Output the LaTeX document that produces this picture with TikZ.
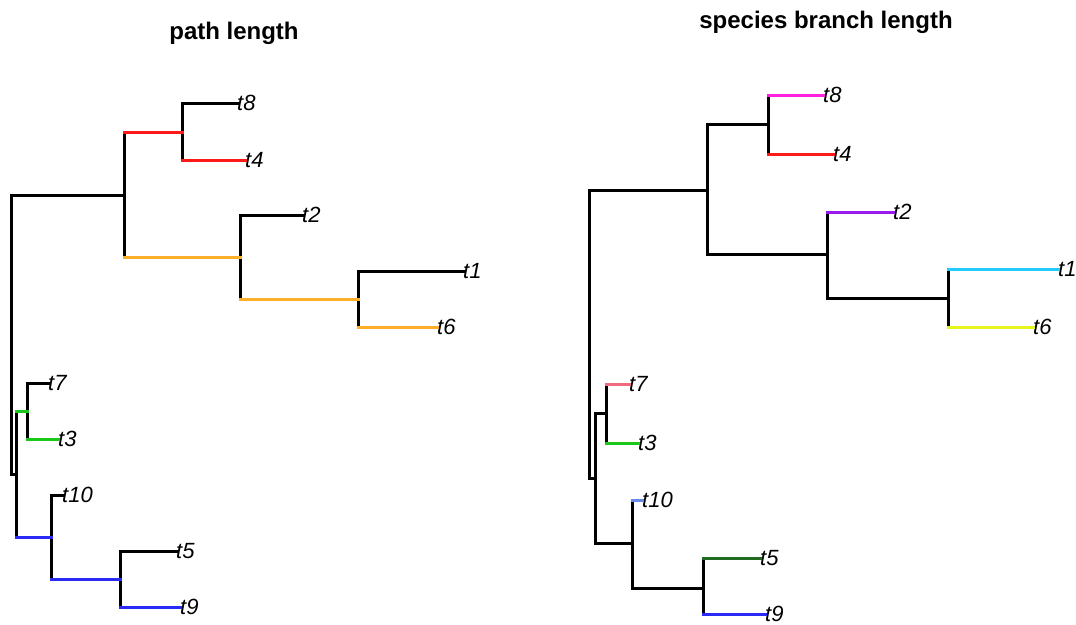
\documentclass[tikz,border=0pt]{standalone}
\usepackage{fontspec}
\setmainfont{Liberation Sans}
\usetikzlibrary{positioning}

\definecolor{brred}{HTML}{FF1A1A}
\definecolor{brorange}{HTML}{FFAE2A}
\definecolor{brgreen}{HTML}{1AC81A}
\definecolor{brblue}{HTML}{2A2AF5}
\definecolor{brmagenta}{HTML}{FF22DD}
\definecolor{brpurple}{HTML}{9A1AF0}
\definecolor{brcyan}{HTML}{22CCFF}
\definecolor{bryellow}{HTML}{E6F51A}
\definecolor{brpink}{HTML}{F06A80}
\definecolor{brcorn}{HTML}{6A8AEA}
\definecolor{brdkgreen}{HTML}{1F6B1F}

\begin{document}
\begin{tikzpicture}[
    x=1pt, y=-1pt,
    edge/.style={line width=3pt, line cap=rect},
    tip/.style={anchor=west, inner sep=0pt, font=\fontsize{22}{22}\selectfont\itshape},
    title/.style={font=\fontsize{24}{24}\selectfont\bfseries},
]
\useasboundingbox (0,0) rectangle (1076,624);

% titles
\node[title] (ltitle) at (234, 33) {path length};
\node[title] (rtitle) at (826, 22) {species branch length};

% ---------- left tree: path length ----------
% inner nodes
\coordinate (lR) at (11, 334);
\coordinate (lA) at (124, 195);
\coordinate (lB) at (182, 132);
\coordinate (lC) at (240, 257);
\coordinate (lD) at (358, 299);
\coordinate (lE) at (16, 474);
\coordinate (lF) at (27, 411);
\coordinate (lG) at (51, 537);
\coordinate (lH) at (120, 579);

% tips
\node[tip] (lt8) at (237, 103) {t8};
\node[tip] (lt4) at (245, 160) {t4};
\node[tip] (lt2) at (302, 215) {t2};
\node[tip] (lt1) at (463, 271) {t1};
\node[tip] (lt6) at (437, 327) {t6};
\node[tip] (lt7) at (48, 383) {t7};
\node[tip] (lt3) at (58, 439) {t3};
\node[tip] (lt10) at (62, 495) {t10};
\node[tip] (lt5) at (176, 551) {t5};
\node[tip] (lt9) at (180, 607) {t9};

% verticals
\draw[edge] (lR |- lA) -- (lR |- lE);
\draw[edge] (lA |- lB) -- (lA |- lC);
\draw[edge] (lB |- lt8.west) -- (lB |- lt4.west);
\draw[edge] (lC |- lt2.west) -- (lC |- lD);
\draw[edge] (lD |- lt1.west) -- (lD |- lt6.west);
\draw[edge] (lE |- lF) -- (lE |- lG);
\draw[edge] (lF |- lt7.west) -- (lF |- lt3.west);
\draw[edge] (lG |- lt10.west) -- (lG |- lH);
\draw[edge] (lH |- lt5.west) -- (lH |- lt9.west);

% horizontals
\draw[edge] (lR |- lA) -- (lA);
\draw[edge] (lR |- lE) -- (lE);
\draw[edge, brred] (lA |- lB) -- (lB);
\draw[edge, brorange] (lA |- lC) -- (lC);
\draw[edge] (lB |- lt8.west) -- (lt8.west);
\draw[edge, brred] (lB |- lt4.west) -- (lt4.west);
\draw[edge] (lC |- lt2.west) -- (lt2.west);
\draw[edge, brorange] (lC |- lD) -- (lD);
\draw[edge] (lD |- lt1.west) -- (lt1.west);
\draw[edge, brorange] (lD |- lt6.west) -- (lt6.west);
\draw[edge, brgreen] (lE |- lF) -- (lF);
\draw[edge, brblue] (lE |- lG) -- (lG);
\draw[edge] (lF |- lt7.west) -- (lt7.west);
\draw[edge, brgreen] (lF |- lt3.west) -- (lt3.west);
\draw[edge] (lG |- lt10.west) -- (lt10.west);
\draw[edge, brblue] (lG |- lH) -- (lH);
\draw[edge] (lH |- lt5.west) -- (lt5.west);
\draw[edge, brblue] (lH |- lt9.west) -- (lt9.west);

% ---------- right tree: species branch length ----------
% inner nodes
\coordinate (rR) at (589, 334);
\coordinate (rA) at (707, 190);
\coordinate (rB) at (768, 124);
\coordinate (rC) at (827, 254);
\coordinate (rD) at (948, 298);
\coordinate (rE) at (595, 478);
\coordinate (rF) at (606, 413);
\coordinate (rG) at (632, 543);
\coordinate (rH) at (703, 588);

% tips
\node[tip] (rt8) at (823, 95) {t8};
\node[tip] (rt4) at (833, 154) {t4};
\node[tip] (rt2) at (893, 212) {t2};
\node[tip] (rt1) at (1058, 269) {t1};
\node[tip] (rt6) at (1033, 327) {t6};
\node[tip] (rt7) at (629, 384) {t7};
\node[tip] (rt3) at (638, 443) {t3};
\node[tip] (rt10) at (642, 500) {t10};
\node[tip] (rt5) at (760, 558) {t5};
\node[tip] (rt9) at (765, 614) {t9};

% verticals
\draw[edge] (rR |- rA) -- (rR |- rE);
\draw[edge] (rA |- rB) -- (rA |- rC);
\draw[edge] (rB |- rt8.west) -- (rB |- rt4.west);
\draw[edge] (rC |- rt2.west) -- (rC |- rD);
\draw[edge] (rD |- rt1.west) -- (rD |- rt6.west);
\draw[edge] (rE |- rF) -- (rE |- rG);
\draw[edge] (rF |- rt7.west) -- (rF |- rt3.west);
\draw[edge] (rG |- rt10.west) -- (rG |- rH);
\draw[edge] (rH |- rt5.west) -- (rH |- rt9.west);

% horizontals
\draw[edge] (rR |- rA) -- (rA);
\draw[edge] (rR |- rE) -- (rE);
\draw[edge] (rA |- rB) -- (rB);
\draw[edge] (rA |- rC) -- (rC);
\draw[edge, brmagenta] (rB |- rt8.west) -- (rt8.west);
\draw[edge, brred] (rB |- rt4.west) -- (rt4.west);
\draw[edge, brpurple] (rC |- rt2.west) -- (rt2.west);
\draw[edge] (rC |- rD) -- (rD);
\draw[edge, brcyan] (rD |- rt1.west) -- (rt1.west);
\draw[edge, bryellow] (rD |- rt6.west) -- (rt6.west);
\draw[edge] (rE |- rF) -- (rF);
\draw[edge] (rE |- rG) -- (rG);
\draw[edge, brpink] (rF |- rt7.west) -- (rt7.west);
\draw[edge, brgreen] (rF |- rt3.west) -- (rt3.west);
\draw[edge, brcorn] (rG |- rt10.west) -- (rt10.west);
\draw[edge] (rG |- rH) -- (rH);
\draw[edge, brdkgreen] (rH |- rt5.west) -- (rt5.west);
\draw[edge, brblue] (rH |- rt9.west) -- (rt9.west);
\end{tikzpicture}
\end{document}
